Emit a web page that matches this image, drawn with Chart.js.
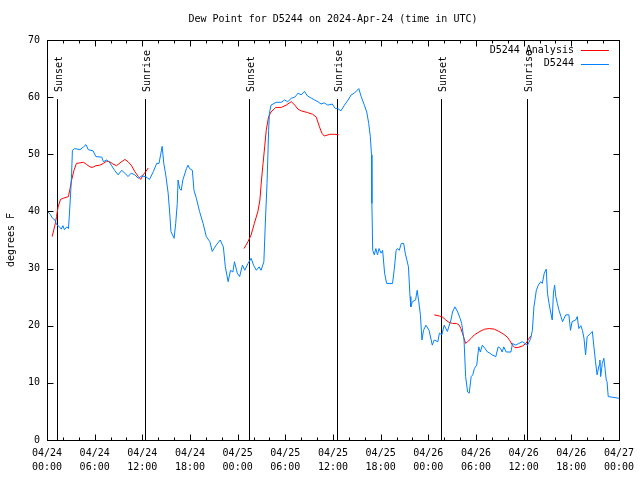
<!DOCTYPE html>
<html>
<head>
<meta charset="utf-8">
<script src="https://cdn.jsdelivr.net/npm/chart.js@4.4.1/dist/chart.umd.min.js"></script>
<style>
  html, body { margin: 0; padding: 0; background: #fff; }
  #wrap { width: 640px; height: 480px; }
</style>
</head>
<body>
<div id="wrap"><canvas id="dewChart" width="640" height="480"></canvas></div>
<script>
// hours since 2024-04-24 00:00 UTC
const obsHours = [0.0, 0.4, 0.7, 1.0, 1.2, 1.5, 1.8, 2.0, 2.2, 2.5, 2.7, 2.8, 3.0, 3.1, 3.2, 3.5, 4.15, 4.6, 4.9, 5.2,
  5.8, 6.15, 6.9, 7.1, 7.5, 7.8, 8.1, 8.5, 8.95, 9.4, 9.8, 10.2, 10.6, 11.05, 11.5, 11.9, 12.4, 12.9, 13.4, 13.8,
  14.1, 14.3, 14.5, 14.7, 14.95, 15.25, 15.45, 15.6, 15.8, 16.0, 16.2, 16.4, 16.5, 16.7, 16.9, 17.1, 17.55, 17.75, 17.95, 18.3,
  18.5, 18.8, 19.2, 19.65, 20.05, 20.5, 20.8, 21.3, 21.8, 22.2, 22.45, 22.8, 23.1, 23.4, 23.6, 23.95, 24.25, 24.6, 24.9, 25.3,
  25.7, 26.0, 26.35, 26.7, 26.95, 27.3, 27.5, 27.7, 27.9, 28.0, 28.2, 28.85, 29.5, 29.9, 30.3, 30.75, 31.2, 31.6, 32.0, 32.4,
  32.8, 33.3, 33.7, 34.1, 34.5, 34.9, 35.35, 35.9, 36.3, 36.6, 37.0, 37.45, 37.9, 38.3, 38.7, 39.25, 39.55, 39.95, 40.25, 40.5,
  40.7, 40.85, 40.9, 41.0, 41.2, 41.4, 41.6, 41.8, 42.05, 42.25, 42.5, 42.75, 43.5, 43.7, 43.95, 44.1, 44.35, 44.6, 44.9, 45.1,
  45.5, 45.7, 45.8, 46.0, 46.4, 46.6, 46.8, 47.0, 47.2, 47.4, 47.7, 48.1, 48.5, 48.75, 49.2, 49.4, 49.7, 50.0, 50.4, 50.85,
  51.05, 51.35, 51.7, 52.0, 52.2, 52.5, 52.7, 52.95, 53.15, 53.4, 53.6, 53.8, 54.1, 54.35, 54.55, 54.8, 55.15, 55.45, 55.75, 56.0,
  56.5, 56.8, 57.1, 57.3, 57.5, 57.8, 58.4, 58.6, 59.0, 59.4, 59.85, 60.5, 60.9, 61.1, 61.3, 61.6, 61.85, 62.15, 62.35, 62.6,
  62.85, 63.0, 63.2, 63.4, 63.6, 63.75, 63.9, 64.05, 64.25, 64.45, 64.7, 64.9, 65.1, 65.3, 65.7, 65.9, 66.1, 66.55, 66.75, 66.95,
  67.2, 67.4, 67.6, 67.8, 68.0, 68.25, 68.45, 68.65, 68.85, 69.05, 69.25, 69.5, 69.6, 69.7, 69.9, 70.1, 70.25, 70.4, 70.5, 70.65,
  72.0];
const obsValues = [40.1, 39.5, 38.8, 38.5, 37.7, 37.4, 36.9, 37.5, 36.8, 37.3, 37.0, 39.0, 43.8, 46.7, 50.7, 51.0, 50.8, 51.3, 51.7, 50.8,
  50.6, 49.6, 49.5, 48.7, 49.0, 48.7, 48.1, 47.2, 46.4, 47.2, 46.7, 46.1, 46.7, 46.4, 45.8, 46.2, 46.1, 45.6, 47.0, 48.4,
  48.4, 49.9, 51.4, 48.4, 46.4, 43.2, 39.7, 36.5, 35.9, 35.3, 37.9, 41.4, 45.5, 44.0, 43.7, 45.5, 47.5, 48.1, 47.5, 47.2,
  43.7, 42.3, 40.0, 37.9, 35.6, 34.7, 33.0, 34.1, 35.0, 33.8, 30.3, 27.7, 29.7, 29.4, 31.2, 29.2, 28.6, 30.6, 29.7, 30.9,
  31.8, 30.6, 29.7, 30.3, 29.7, 31.2, 38.5, 44.9, 54.2, 57.2, 58.6, 59.1, 59.1, 59.5, 59.2, 59.8, 60.0, 60.7, 60.4, 61.0,
  60.2, 59.8, 59.5, 59.2, 58.8, 59.0, 58.6, 58.8, 58.0, 58.0, 57.6, 58.6, 59.5, 60.4, 60.7, 61.5, 60.1, 58.6, 57.4, 55.4,
  53.1, 49.9, 41.4, 33.2, 32.4, 33.5, 32.4, 33.5, 32.7, 33.2, 29.2, 27.4, 27.4, 29.7, 33.2, 33.5, 33.2, 34.4, 34.4, 32.7,
  30.3, 25.1, 23.3, 24.2, 24.5, 26.2, 24.2, 22.0, 17.5, 19.2, 20.1, 19.2, 16.6, 17.5, 17.2, 18.7, 18.4, 20.1, 19.0, 21.0,
  22.4, 23.3, 22.4, 21.3, 20.4, 17.5, 11.1, 8.4, 8.2, 11.1, 11.4, 12.5, 13.1, 16.3, 15.4, 16.6, 16.0, 15.4, 15.2, 14.9,
  14.6, 16.3, 16.0, 15.4, 16.3, 15.4, 15.4, 16.9, 16.6, 16.9, 17.2, 16.6, 17.8, 19.2, 23.3, 26.2, 27.1, 27.7, 27.4, 29.2,
  29.9, 25.7, 23.9, 22.4, 21.0, 25.7, 27.1, 25.1, 23.9, 22.7, 21.6, 20.7, 21.3, 21.9, 21.9, 19.2, 20.7, 21.0, 21.6, 19.5,
  20.0, 19.2, 17.8, 14.9, 18.1, 18.4, 18.7, 19.0, 16.3, 13.7, 11.4, 13.1, 14.0, 11.1, 13.4, 14.3, 12.5, 10.5, 10.2, 7.6,
  7.3];

// analysis series, null breaks the line between runs
const anaHours = [0.65, 1.0, 1.2, 1.4, 1.7, 2.05, 2.7, 2.9, 3.1, 3.4, 3.7, 4.15, 4.6, 5.0, 5.4, 5.7, 6.15, 6.65, 7.1, 7.5,
  7.9, 8.3, 8.75, 9.2, 9.8, 10.2, 10.6, 11.05, 11.5, 11.8, 12.1, 12.45, 12.75, 13.0,
  24.8, 25.3, 25.7, 26.1, 26.55, 26.8, 27.0, 27.2, 27.4, 27.6, 27.9, 28.2, 28.8, 29.5, 30.1, 30.75, 31.2, 31.6, 32.0, 32.8,
  33.45, 33.9, 34.3, 34.6, 34.9, 35.6, 36.2, 36.7, 37.0,
  48.75, 49.4, 49.8, 50.2, 50.6, 51.05, 51.55, 51.9, 52.1, 52.3, 52.5, 52.7, 52.95, 53.4, 53.8, 54.5, 55.1, 55.7, 56.3, 56.9,
  57.5, 57.95, 58.25, 58.6, 58.9, 59.3, 59.85, 60.3, 60.6, 60.9];
const anaValues = [35.6, 37.6, 39.1, 40.8, 42.1, 42.3, 42.6, 44.0, 45.5, 47.2, 48.4, 48.5, 48.6, 48.2, 47.8, 47.7, 48.0, 48.1, 48.4, 48.8,
  48.7, 48.3, 48.0, 48.5, 49.1, 48.7, 48.1, 47.0, 46.1, 45.6, 46.4, 47.0, 47.6, null,
  33.5, 34.7, 35.9, 37.9, 40.0, 42.0, 45.5, 48.4, 51.3, 54.2, 56.6, 57.4, 58.2, 58.2, 58.6, 59.2, 58.6, 57.9, 57.6, 57.3,
  57.0, 56.5, 54.8, 53.7, 53.2, 53.5, 53.5, 53.4, null,
  21.9, 21.7, 21.5, 21.0, 20.6, 20.4, 20.4, 20.1, 19.5, 18.7, 17.8, 16.9, 17.2, 17.8, 18.4, 19.0, 19.4, 19.5, 19.4, 19.0,
  18.5, 18.0, 17.4, 16.6, 16.15, 16.2, 16.45, 16.9, 17.6, 18.2];

const sunHours = [1.26, 12.35, 25.42, 36.48, 49.55, 60.48];
const sunLabels = ['Sunset', 'Sunrise', 'Sunset', 'Sunrise', 'Sunset', 'Sunrise'];

const tickHours = [0, 6, 12, 18, 24, 30, 36, 42, 48, 54, 60, 66, 72];
const tickDates = ['04/24', '04/24', '04/24', '04/24', '04/25', '04/25', '04/25', '04/25', '04/26', '04/26', '04/26', '04/26', '04/27'];
const tickTimes = ['00:00', '06:00', '12:00', '18:00', '00:00', '06:00', '12:00', '18:00', '00:00', '06:00', '12:00', '18:00', '00:00'];
const yTicks = [0, 10, 20, 30, 40, 50, 60, 70];

const chartTitle = 'Dew Point for D5244 on 2024-Apr-24 (time in UTC)';
const seriesNames = ['D5244 Analysis', 'D5244'];
const seriesColors = ['#ff0000', '#0080ff'];

const FONT = { family: "'DejaVu Sans Mono', monospace", size: 10 };
const CSS_FONT = "10px 'DejaVu Sans Mono', monospace";

function toPoints(hours, values) {
    return hours.map((h, i) => ({ x: h, y: values[i] }));
}

// title, frame, inward ticks, sun lines and the gnuplot-style legend
const gnuplotBits = {
    id: 'gnuplotBits',
    beforeDatasetsDraw(chart) {
        const { ctx, chartArea: a, scales: { x } } = chart;
        ctx.save();
        ctx.strokeStyle = '#000';
        ctx.fillStyle = '#000';
        ctx.lineWidth = 1;
        ctx.font = CSS_FONT;

        ctx.textAlign = 'center';
        ctx.textBaseline = 'middle';
        ctx.fillText(chartTitle, (a.left + a.right) / 2, 19);

        sunHours.forEach((h, i) => {
            const px = Math.round(x.getPixelForValue(h)) + 0.5;
            ctx.beginPath();
            ctx.moveTo(px, a.top + 59);
            ctx.lineTo(px, a.bottom);
            ctx.stroke();
            ctx.save();
            ctx.translate(px + 1.5, a.top + 52);
            ctx.rotate(-Math.PI / 2);
            ctx.textAlign = 'left';
            ctx.textBaseline = 'middle';
            ctx.fillText(sunLabels[i], 0, 0);
            ctx.restore();
        });
        ctx.restore();
    },
    afterDraw(chart) {
        const { ctx, chartArea: a, scales: { x, y } } = chart;
        ctx.save();
        ctx.strokeStyle = '#000';
        ctx.lineWidth = 1;
        const L = Math.round(a.left) + 0.5, R = Math.round(a.right) + 0.5;
        const T = Math.round(a.top) + 0.5, B = Math.round(a.bottom) + 0.5;
        ctx.strokeRect(L, T, R - L, B - T);
        ctx.beginPath();
        for (let h = 0; h <= 72; h += 2) {
            const px = Math.round(x.getPixelForValue(h)) + 0.5;
            const len = h % 6 === 0 ? 6 : 3;
            ctx.moveTo(px, B); ctx.lineTo(px, B - len);
            ctx.moveTo(px, T); ctx.lineTo(px, T + len);
        }
        yTicks.forEach(v => {
            const py = Math.round(y.getPixelForValue(v)) + 0.5;
            ctx.moveTo(L, py); ctx.lineTo(L + 6, py);
            ctx.moveTo(R, py); ctx.lineTo(R - 6, py);
        });
        ctx.stroke();

        // legend
        ctx.font = CSS_FONT;
        ctx.textAlign = 'right';
        ctx.textBaseline = 'middle';
        seriesNames.forEach((name, i) => {
            const ly = a.top + 10 + i * 13.5;
            ctx.fillStyle = '#000';
            ctx.fillText(name, a.right - 45, ly);
            ctx.strokeStyle = seriesColors[i];
            ctx.beginPath();
            ctx.moveTo(a.right - 38, Math.round(ly) + 0.5);
            ctx.lineTo(a.right - 10, Math.round(ly) + 0.5);
            ctx.stroke();
        });
        ctx.restore();
    }
};

const ctx = document.getElementById('dewChart').getContext('2d');
new Chart(ctx, {
    type: 'line',
    data: {
        datasets: [
            {
                label: seriesNames[0],
                data: toPoints(anaHours, anaValues),
                borderColor: seriesColors[0],
                borderWidth: 1,
                pointRadius: 0,
                tension: 0,
                spanGaps: false,
                order: 1
            },
            {
                label: seriesNames[1],
                data: toPoints(obsHours, obsValues),
                borderColor: seriesColors[1],
                borderWidth: 1,
                pointRadius: 0,
                tension: 0,
                order: 0
            }
        ]
    },
    options: {
        responsive: false,
        animation: false,
        layout: { padding: { left: 0, right: 20, top: 40, bottom: 0 } },
        plugins: {
            legend: { display: false },
            tooltip: { enabled: false },
            title: { display: false }
        },
        scales: {
            x: {
                type: 'linear',
                min: 0,
                max: 72,
                afterBuildTicks: axis => { axis.ticks = tickHours.map(v => ({ value: v })); },
                afterFit: axis => { axis.height = 40; },
                grid: { display: false, drawTicks: false },
                border: { display: false },
                ticks: {
                    color: '#000',
                    font: { ...FONT, lineHeight: 1.45 },
                    maxRotation: 0,
                    autoSkip: false,
                    padding: 6,
                    callback: (value, index) => [tickDates[index], tickTimes[index]]
                }
            },
            y: {
                min: 0,
                max: 70,
                afterBuildTicks: axis => { axis.ticks = yTicks.map(v => ({ value: v })); },
                afterFit: axis => { axis.width = 47; },
                grid: { display: false, drawTicks: false },
                border: { display: false },
                ticks: { color: '#000', font: FONT, padding: 7 },
                title: {
                    display: true,
                    text: 'degrees F',
                    color: '#000',
                    font: FONT,
                    padding: { top: 5, bottom: 0 }
                }
            }
        }
    },
    plugins: [gnuplotBits]
});
</script>
</body>
</html>
